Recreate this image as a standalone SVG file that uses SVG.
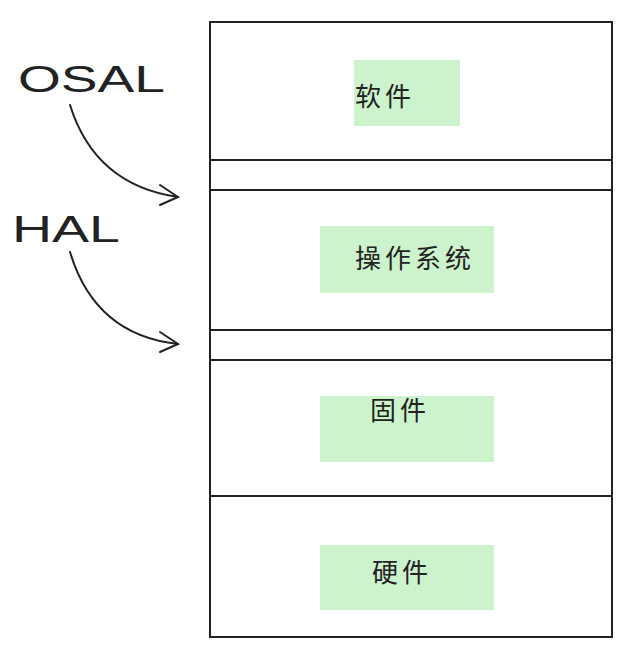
<svg xmlns="http://www.w3.org/2000/svg" width="634" height="656" viewBox="0 0 634 656">
<style>
.ln{stroke:#222;stroke-width:2;fill:none;stroke-linecap:round}
.g{fill:#c8f2c8;opacity:0.9}
.t{font-family:"Noto Sans CJK SC",sans-serif;font-size:26px;fill:#222;text-anchor:middle;letter-spacing:4px}
.h{font-family:"Liberation Sans",sans-serif;font-size:36px;fill:#222}
</style>
<rect width="634" height="656" fill="#fff"/>
<g id="stack">
<rect x="210" y="22" width="402" height="615" class="ln"/>
<line x1="210" y1="160" x2="612" y2="160" class="ln"/>
<line x1="210" y1="190" x2="612" y2="190" class="ln"/>
<line x1="210" y1="330" x2="612" y2="330" class="ln"/>
<line x1="210" y1="360" x2="612" y2="360" class="ln"/>
<line x1="210" y1="496" x2="612" y2="496" class="ln"/>
</g>
<g id="software"><rect x="354" y="60" width="106" height="66" class="g"/><text x="385" y="106" class="t">软件</text></g>
<g id="os"><rect x="320" y="226" width="174" height="67" class="g"/><text x="415" y="268" class="t">操作系统</text></g>
<g id="firmware"><rect x="320" y="396" width="174" height="66" class="g"/><text x="400" y="420" class="t">固件</text></g>
<g id="hardware"><rect x="320" y="545" width="174" height="65" class="g"/><text x="402" y="582" class="t">硬件</text></g>
<g id="osal"><text x="18" y="92" class="h" textLength="147" lengthAdjust="spacingAndGlyphs">OSAL</text></g>
<g id="hal"><text x="12" y="242" class="h" textLength="108" lengthAdjust="spacingAndGlyphs">HAL</text></g>
<g id="connectors">
<path d="M70 105 Q95 185 178 197" class="ln"/>
<path d="M160 185 L178 197 L160 205" class="ln"/>
<path d="M70 252 Q95 335 178 344" class="ln"/>
<path d="M160 332 L178 344 L160 352" class="ln"/>
</g>
</svg>
